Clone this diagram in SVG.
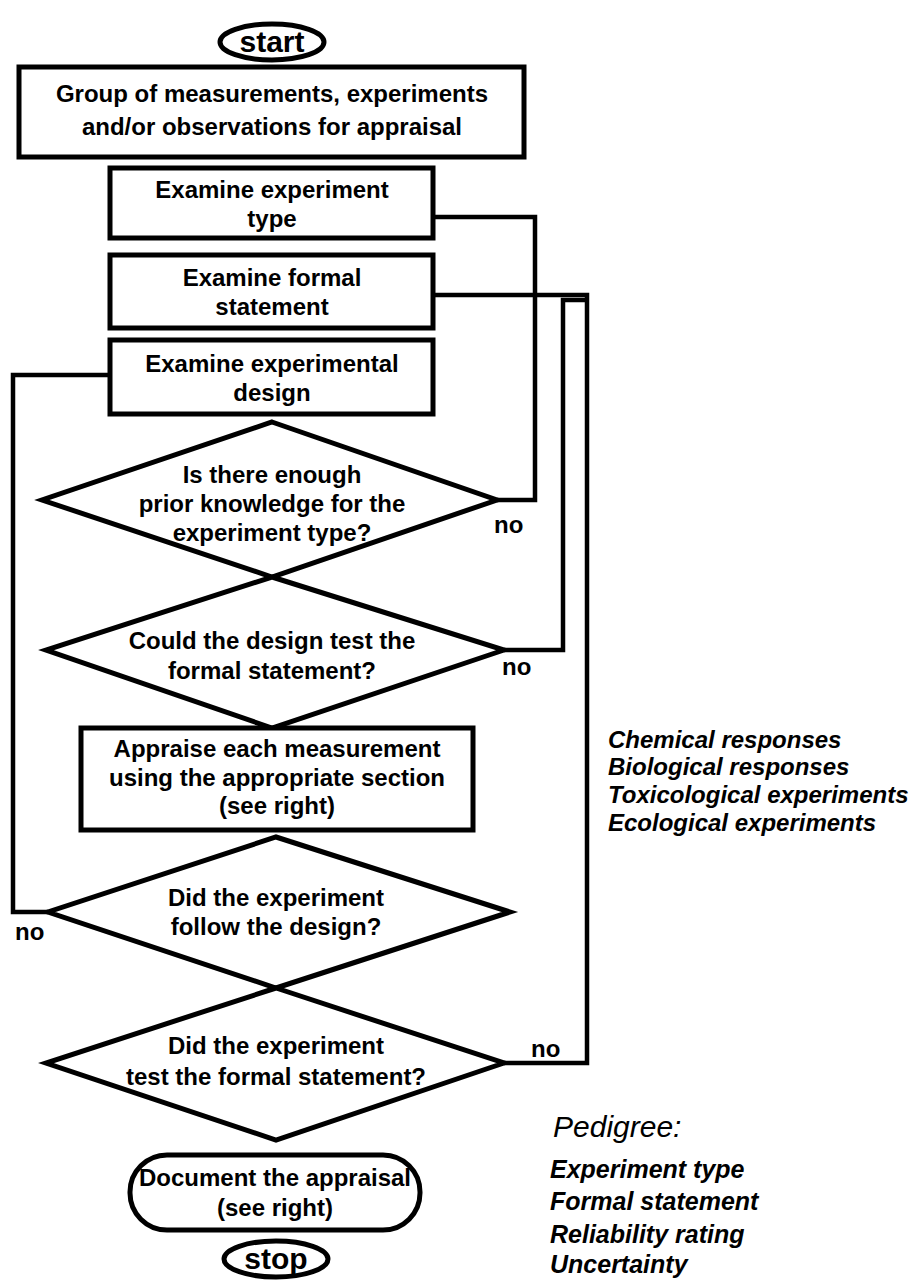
<svg xmlns="http://www.w3.org/2000/svg" width="916" height="1280" viewBox="0 0 916 1280">
  <style>
    .shape { fill: #fff; stroke: #000; stroke-width: 5; stroke-linejoin: miter; }
    .wire { fill: none; stroke: #000; stroke-width: 4.5; stroke-linejoin: miter; }
    .t { font-family: "Liberation Sans", Arial, sans-serif; font-weight: bold; font-size: 24px; text-anchor: middle; fill: #000; }
    .term { font-family: "Liberation Sans", Arial, sans-serif; font-weight: bold; font-size: 30px; text-anchor: middle; fill: #000; }
    .lbl { font-family: "Liberation Sans", Arial, sans-serif; font-weight: bold; font-size: 24px; fill: #000; }
    .note { font-family: "Liberation Sans", Arial, sans-serif; font-weight: bold; font-style: italic; font-size: 24px; fill: #000; }
    .ped { font-family: "Liberation Sans", Arial, sans-serif; font-weight: bold; font-style: italic; font-size: 25px; fill: #000; }
    .head { font-family: "Liberation Sans", Arial, sans-serif; font-style: italic; font-size: 30px; fill: #000; }
  </style>
  <rect width="916" height="1280" fill="#fff"/>

  <!-- connectors (drawn first so shapes sit on top) -->
  <g id="connectors">
    <path class="wire" d="M 433 217 H 535 V 500 H 497"/>
    <path class="wire" d="M 433 295 H 587 V 1063 H 504"/>
    <path class="wire" d="M 504 650 H 563 V 300 H 587"/>
    <path class="wire" d="M 110 375 H 13 V 912 H 48"/>
  </g>

  <g id="start">
    <ellipse class="shape" cx="272" cy="42" rx="52" ry="18"/>
    <text class="term" x="272" y="52">start</text>
  </g>

  <g id="group">
    <rect class="shape" x="19" y="67" width="505" height="90"/>
    <text class="t" x="272" y="102">Group of measurements, experiments</text>
    <text class="t" x="272" y="135">and/or observations for appraisal</text>
  </g>

  <g id="exam-type">
    <rect class="shape" x="110" y="168" width="323" height="70"/>
    <text class="t" x="272" y="198">Examine experiment</text>
    <text class="t" x="272" y="227">type</text>
  </g>

  <g id="exam-formal">
    <rect class="shape" x="110" y="255" width="323" height="73"/>
    <text class="t" x="272" y="286">Examine formal</text>
    <text class="t" x="272" y="315">statement</text>
  </g>

  <g id="exam-design">
    <rect class="shape" x="110" y="340" width="323" height="74"/>
    <text class="t" x="272" y="372">Examine experimental</text>
    <text class="t" x="272" y="401">design</text>
  </g>

  <g id="q-prior">
    <polygon class="shape" points="272,422 497,500 272,577 42,500"/>
    <text class="t" x="272" y="483">Is there enough</text>
    <text class="t" x="272" y="512">prior knowledge for the</text>
    <text class="t" x="272" y="541">experiment type?</text>
  </g>

  <g id="q-design">
    <polygon class="shape" points="272,577 504,650 272,728 46,650"/>
    <text class="t" x="272" y="649">Could the design test the</text>
    <text class="t" x="272" y="679">formal statement?</text>
  </g>

  <g id="appraise">
    <rect class="shape" x="81" y="728" width="392" height="102"/>
    <text class="t" x="277" y="757">Appraise each measurement</text>
    <text class="t" x="277" y="786">using the appropriate section</text>
    <text class="t" x="277" y="814">(see right)</text>
  </g>

  <g id="q-follow">
    <polygon class="shape" points="276,837 510,912 276,988 48,912"/>
    <text class="t" x="276" y="906">Did the experiment</text>
    <text class="t" x="276" y="935">follow the design?</text>
  </g>

  <g id="q-test">
    <polygon class="shape" points="276,988 504,1063 276,1140 46,1063"/>
    <text class="t" x="276" y="1054">Did the experiment</text>
    <text class="t" x="276" y="1085">test the formal statement?</text>
  </g>

  <g id="document">
    <rect class="shape" x="130" y="1155" width="290" height="75" rx="37" ry="37"/>
    <text class="t" x="275" y="1186">Document the appraisal</text>
    <text class="t" x="275" y="1216">(see right)</text>
  </g>

  <g id="stop">
    <ellipse class="shape" cx="276" cy="1259" rx="52" ry="18"/>
    <text class="term" x="276" y="1269">stop</text>
  </g>

  <g id="no-labels">
    <text class="lbl" x="494" y="533">no</text>
    <text class="lbl" x="502" y="675">no</text>
    <text class="lbl" x="15" y="940">no</text>
    <text class="lbl" x="531" y="1057">no</text>
  </g>

  <g id="sections">
    <text class="note" x="608" y="748">Chemical responses</text>
    <text class="note" x="608" y="775">Biological responses</text>
    <text class="note" x="608" y="803">Toxicological experiments</text>
    <text class="note" x="608" y="831">Ecological experiments</text>
  </g>

  <g id="pedigree">
    <text class="head" x="553" y="1137">Pedigree:</text>
    <text class="ped" x="550" y="1178">Experiment type</text>
    <text class="ped" x="550" y="1210">Formal statement</text>
    <text class="ped" x="550" y="1243">Reliability rating</text>
    <text class="ped" x="550" y="1273">Uncertainty</text>
  </g>
</svg>
